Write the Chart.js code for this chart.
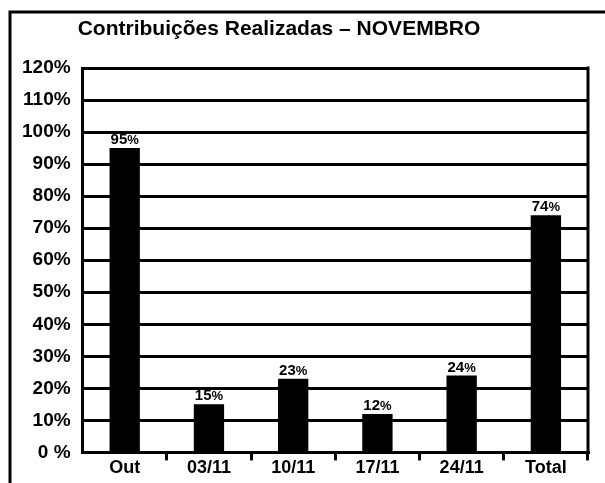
<!DOCTYPE html>
<html>
<head>
<meta charset="utf-8">
<script src="https://cdn.jsdelivr.net/npm/chart.js@4.4.1/dist/chart.umd.min.js"></script>
<style>
  html, body { margin: 0; padding: 0; background: #fff; }
  #wrap { width: 605px; height: 483px; position: relative; }
</style>
</head>
<body>
<div id="wrap"><canvas id="chart" width="605" height="483"></canvas></div>
<script>
// ---- data ----
const titleText = "Contribuições Realizadas – NOVEMBRO";
const categories = ["Out", "03/11", "10/11", "17/11", "24/11", "Total"];
const percentValues = [95, 15, 23, 12, 24, 74];
const yTickLabels = ["0 %", "10%", "20%", "30%", "40%", "50%", "60%", "70%", "80%", "90%", "100%", "110%", "120%"];

const FONT = "'Liberation Sans', Arial, sans-serif";

/* moldura externa + título + borda direita */
const framePlugin = {
  id: "frame",
  beforeDraw(chart) {
    const c = chart.ctx;
    c.save();
    c.strokeStyle = "#000";
    c.lineWidth = 3;
    c.beginPath();
    c.moveTo(10, chart.height + 5);
    c.lineTo(10, 12);
    c.lineTo(chart.width + 5, 12);
    c.stroke();
    c.fillStyle = "#000";
    c.font = "bold 21px " + FONT;
    c.textAlign = "center";
    c.textBaseline = "middle";
    c.fillText(titleText, 279, 29);
    c.restore();
  },
  afterDraw(chart) {
    const a = chart.chartArea;
    const c = chart.ctx;
    c.save();
    c.strokeStyle = "#000";
    c.lineWidth = 3;
    c.beginPath();
    c.moveTo(a.right, a.top - 1.5);
    c.lineTo(a.right, a.bottom + 1.5);
    c.stroke();
    c.restore();
  }
};

/* rótulos de valor acima das barras */
const valueLabels = {
  id: "valueLabels",
  afterDatasetsDraw(chart) {
    const c = chart.ctx;
    const meta = chart.getDatasetMeta(0);
    c.save();
    c.fillStyle = "#000";
    c.textBaseline = "alphabetic";
    meta.data.forEach((bar, i) => {
      const num = String(percentValues[i]);
      c.font = "bold 15px " + FONT;
      const w1 = c.measureText(num).width;
      c.font = "bold 13px " + FONT;
      const w2 = c.measureText("%").width;
      const x0 = bar.x - (w1 + w2) / 2;
      const y = bar.y - 4;
      c.textAlign = "left";
      c.font = "bold 15px " + FONT;
      c.fillText(num, x0, y);
      c.font = "bold 13px " + FONT;
      c.fillText("%", x0 + w1, y);
    });
    c.restore();
  }
};

const ctx = document.getElementById("chart").getContext("2d");
new Chart(ctx, {
  type: "bar",
  data: {
    labels: categories,
    datasets: [{
      data: percentValues,
      backgroundColor: "#000",
      borderWidth: 0,
      categoryPercentage: 1,
      barPercentage: 0.36
    }]
  },
  options: {
    responsive: false,
    animation: false,
    layout: { padding: { top: 68, right: 17, left: 10, bottom: 7 } },
    plugins: {
      legend: { display: false },
      tooltip: { enabled: false },
      title: { display: false }
    },
    scales: {
      x: {
        grid: {
          drawOnChartArea: false,
          drawTicks: true,
          tickLength: 8,
          lineWidth: 3,
          color: (c) => (c.index === 0 || c.index === categories.length ? "rgba(0,0,0,0)" : "#000")
        },
        border: { display: true, color: "#000", width: 3 },
        ticks: {
          color: "#000",
          padding: -3,
          font: { family: FONT, size: 18, weight: "bold" }
        }
      },
      y: {
        min: 0,
        max: 120,
        grid: { color: "#000", lineWidth: 3, drawTicks: false },
        border: { display: true, color: "#000", width: 3 },
        ticks: {
          stepSize: 10,
          color: "#000",
          padding: 12,
          font: { family: FONT, size: 19, weight: "bold" },
          callback: (v) => yTickLabels[Math.round(v / 10)]
        }
      }
    }
  },
  plugins: [framePlugin, valueLabels]
});
</script>
</body>
</html>
